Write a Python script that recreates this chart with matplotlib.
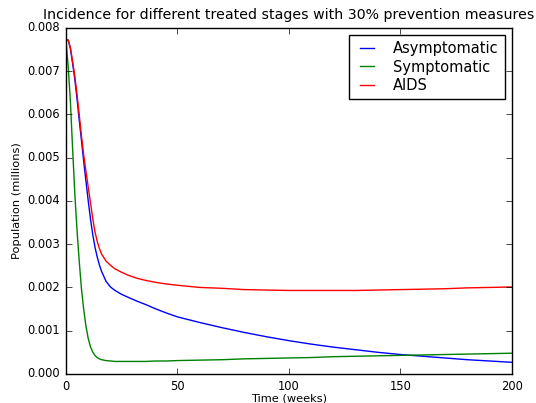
import numpy as np
import matplotlib
matplotlib.use("Agg")
import matplotlib.pyplot as plt
from matplotlib.ticker import FormatStrFormatter

plt.style.use("classic")

weeks = [0, 1, 2, 3, 4, 5, 6, 7, 8, 9, 10, 11, 12, 13, 14, 15, 16, 18, 20, 22,
         25, 28, 32, 36, 40, 45, 50, 60, 70, 80, 90, 100, 110, 120, 130, 140,
         150, 160, 170, 180, 190, 200]

asymptomatic = [0.00770, 0.00772, 0.00752, 0.00718, 0.00680, 0.00635, 0.00585,
                0.00538, 0.00490, 0.00445, 0.00400, 0.00359, 0.00323, 0.00294,
                0.00271, 0.00252, 0.00237, 0.00214, 0.00201, 0.00193, 0.00184,
                0.00177, 0.00168, 0.00160, 0.00151, 0.00141, 0.00132, 0.00119,
                0.00107, 0.00096, 0.00086, 0.00077, 0.00069, 0.00062, 0.00056,
                0.00050, 0.00045, 0.00041, 0.00037, 0.00033, 0.00030, 0.00027]

symptomatic = [0.00770, 0.00712, 0.00630, 0.00520, 0.00415, 0.00330, 0.00258,
               0.00195, 0.00148, 0.00110, 0.00082, 0.00063, 0.00051, 0.00043,
               0.00038, 0.00035, 0.00033, 0.00031, 0.00030, 0.00029, 0.00029,
               0.00029, 0.00029, 0.00029, 0.00030, 0.00030, 0.00031, 0.00032,
               0.00033, 0.00035, 0.00036, 0.00037, 0.00038, 0.00040, 0.00041,
               0.00042, 0.00043, 0.00044, 0.00045, 0.00046, 0.00047, 0.00048]

aids = [0.00770, 0.00772, 0.00754, 0.00722, 0.00688, 0.00645, 0.00597, 0.00549,
        0.00505, 0.00468, 0.00432, 0.00396, 0.00360, 0.00329, 0.00307, 0.00290,
        0.00277, 0.00261, 0.00251, 0.00243, 0.00235, 0.00228, 0.00221, 0.00216,
        0.00212, 0.00208, 0.00205, 0.00200, 0.00198, 0.00195, 0.00194, 0.00193,
        0.00193, 0.00193, 0.00193, 0.00194, 0.00195, 0.00196, 0.00197, 0.00199,
        0.00200, 0.00201]

fig = plt.figure(figsize=(5.36, 4.03), dpi=100, facecolor="white")
ax = fig.add_axes([0.123, 0.072, 0.832, 0.859])

ax.plot(weeks, asymptomatic, color="b", lw=1.0, label="Asymptomatic")
ax.plot(weeks, symptomatic, color="g", lw=1.0, label="Symptomatic")
ax.plot(weeks, aids, color="r", lw=1.0, label="AIDS")

ax.set_xlim(0, 200)
ax.set_ylim(0, 0.008)
ax.set_xticks([0, 50, 100, 150, 200])
ax.set_yticks(np.arange(0, 0.0081, 0.001))
ax.yaxis.set_major_formatter(FormatStrFormatter("%.3f"))
ax.tick_params(labelsize=8.3, length=4)

ax.set_xlabel("Time (weeks)", fontsize=8.2, labelpad=1)
ax.set_ylabel("Population (millions)", fontsize=8.2, labelpad=4)
ax.set_title("Incidence for different treated stages with 30% prevention measures",
             fontsize=10.2, pad=6)

ax.legend(loc="upper right", fontsize=10.5, handlelength=1.6, borderpad=0.4,
          labelspacing=0.25, handletextpad=1.0, fancybox=False)

fig.savefig("out.png", dpi=100, facecolor="white")
